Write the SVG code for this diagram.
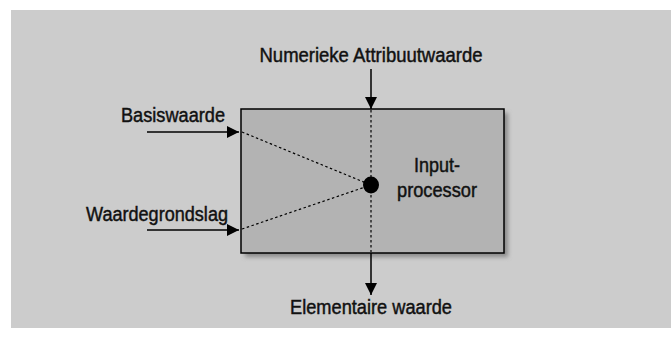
<svg xmlns="http://www.w3.org/2000/svg" width="671" height="338" viewBox="0 0 671 338">
<defs>
<style>
.lbl{font-family:"Liberation Sans",Arial,sans-serif;font-size:20px;fill:#111;stroke:#111;stroke-width:0.45;}
.conn{stroke:#000;stroke-width:1.5;fill:none;}
.dot{stroke:#000;stroke-width:1.2;fill:none;stroke-dasharray:2.5 2.5;}
</style>
<marker id="ah" viewBox="0 0 12 12" refX="12" refY="6" markerWidth="12" markerHeight="12" markerUnits="userSpaceOnUse" orient="auto">
<path d="M0,0 L12,6 L0,12 Z" fill="#000"/>
</marker>
<filter id="sh" x="-10%" y="-10%" width="130%" height="130%">
<feGaussianBlur stdDeviation="2"/>
</filter>
</defs>
<rect x="11" y="10" width="660" height="318" fill="#cccccc"/>
<g id="processor">
<rect x="245" y="113" width="263" height="144" fill="#8a8a8a" filter="url(#sh)"/>
<rect x="241" y="109" width="263" height="144" fill="#b3b3b3" stroke="#000" stroke-width="1.5"/>
<text class="lbl" x="437" y="172" text-anchor="middle" textLength="46" lengthAdjust="spacingAndGlyphs">Input-</text>
<text class="lbl" x="437" y="197" text-anchor="middle" textLength="80" lengthAdjust="spacingAndGlyphs">processor</text>
</g>
<g id="connectors">
<line class="conn" x1="371" y1="69" x2="371" y2="109" marker-end="url(#ah)"/>
<line class="conn" x1="147" y1="132" x2="239" y2="132" marker-end="url(#ah)"/>
<line class="conn" x1="147" y1="230" x2="239" y2="230" marker-end="url(#ah)"/>
<line class="conn" x1="371" y1="253" x2="371" y2="295" marker-end="url(#ah)"/>
<line class="dot" x1="371" y1="110" x2="371" y2="252"/>
<line class="dot" x1="242" y1="132" x2="371" y2="185"/>
<line class="dot" x1="242" y1="229" x2="371" y2="185"/>
</g>
<g id="junction">
<ellipse cx="371" cy="185" rx="8" ry="8.5" fill="#000"/>
</g>
<g id="numeriek">
<text class="lbl" x="371" y="62" text-anchor="middle" textLength="223" lengthAdjust="spacingAndGlyphs">Numerieke Attribuutwaarde</text>
</g>
<g id="basiswaarde">
<text class="lbl" x="225" y="122" text-anchor="end" textLength="104" lengthAdjust="spacingAndGlyphs">Basiswaarde</text>
</g>
<g id="waardegrondslag">
<text class="lbl" x="228" y="221" text-anchor="end" textLength="142" lengthAdjust="spacingAndGlyphs">Waardegrondslag</text>
</g>
<g id="elementaire">
<text class="lbl" x="371" y="314" text-anchor="middle" textLength="162" lengthAdjust="spacingAndGlyphs">Elementaire waarde</text>
</g>
</svg>
